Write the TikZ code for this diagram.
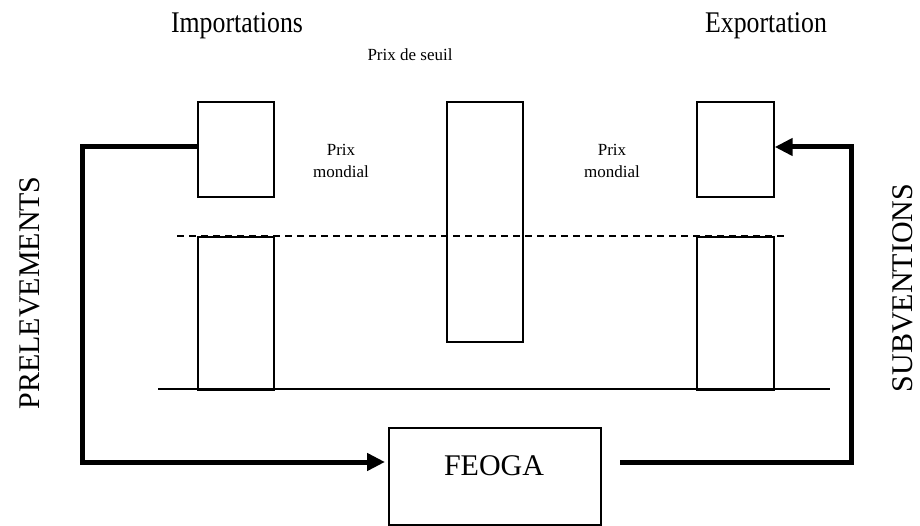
\documentclass[tikz,border=0pt]{standalone}
\usepackage{fontspec}
\setmainfont{Liberation Serif}
\usetikzlibrary{arrows.meta}
\begin{document}
\begin{tikzpicture}[x=1pt,y=-1pt,
  box/.style={draw,line width=1.7pt,inner sep=0pt,anchor=north west},
  flow/.style={line width=5pt,line cap=butt,line join=miter},
  tip/.style={-{Triangle[length=18pt,width=17pt]}},
  big/.style={font=\fontsize{30}{34}\selectfont,inner sep=0pt},
  small/.style={font=\fontsize{17}{22}\selectfont,inner sep=0pt,align=center}]
\useasboundingbox (0,0) rectangle (920,526);
% boxes
\node[box,minimum width=76pt,minimum height=95pt] (it) at (197,101) {};
\node[box,minimum width=76pt,minimum height=153pt] (ib) at (197,236) {};
\node[box,minimum width=76pt,minimum height=240pt] (ps) at (446,101) {};
\node[box,minimum width=77pt,minimum height=95pt] (et) at (696,101) {};
\node[box,minimum width=77pt,minimum height=153pt] (eb) at (696,236) {};
\node[box,minimum width=212pt,minimum height=97pt] (feoga) at (388,427) {};
\node[big] at (494,466) {FEOGA};
% baseline and dashed threshold
\coordinate (bl) at (158,389);
\coordinate (br) at (830,389);
\draw[line width=1.7pt] (bl) -- (br);
\coordinate (dl) at (177,236);
\coordinate (dr) at (787,236);
\draw[line width=1.7pt,dash pattern=on 7pt off 5pt] (dl) -- (dr);
% labels
\node[big,xscale=0.86] (imp) at (237,26) {Importations};
\node[big,xscale=0.86] (exp) at (766,26) {Exportation};
\node[small] (seuil) at (410,55) {Prix de seuil};
\node[small] (pm1) at (341,161) {Prix\\mondial};
\node[small] (pm2) at (612,161) {Prix\\mondial};
\node[big,rotate=90] (prel) at (30,293) {PRELEVEMENTS};
\node[big,rotate=90] (subv) at (903,288) {SUBVENTIONS};
% flows
\coordinate (lc1) at (82,147);
\coordinate (lc2) at (82,462);
\coordinate (la) at (385,462);
\draw[flow,tip] (it.west |- lc1) -- (lc1) -- (lc2) -- (la);
\coordinate (rs) at (620,462);
\coordinate (rc1) at (851,462);
\coordinate (rc2) at (851,147);
\draw[flow,tip] (rs) -- (rc1) -- (rc2) -- (et.east |- rc2);
\end{tikzpicture}
\end{document}
